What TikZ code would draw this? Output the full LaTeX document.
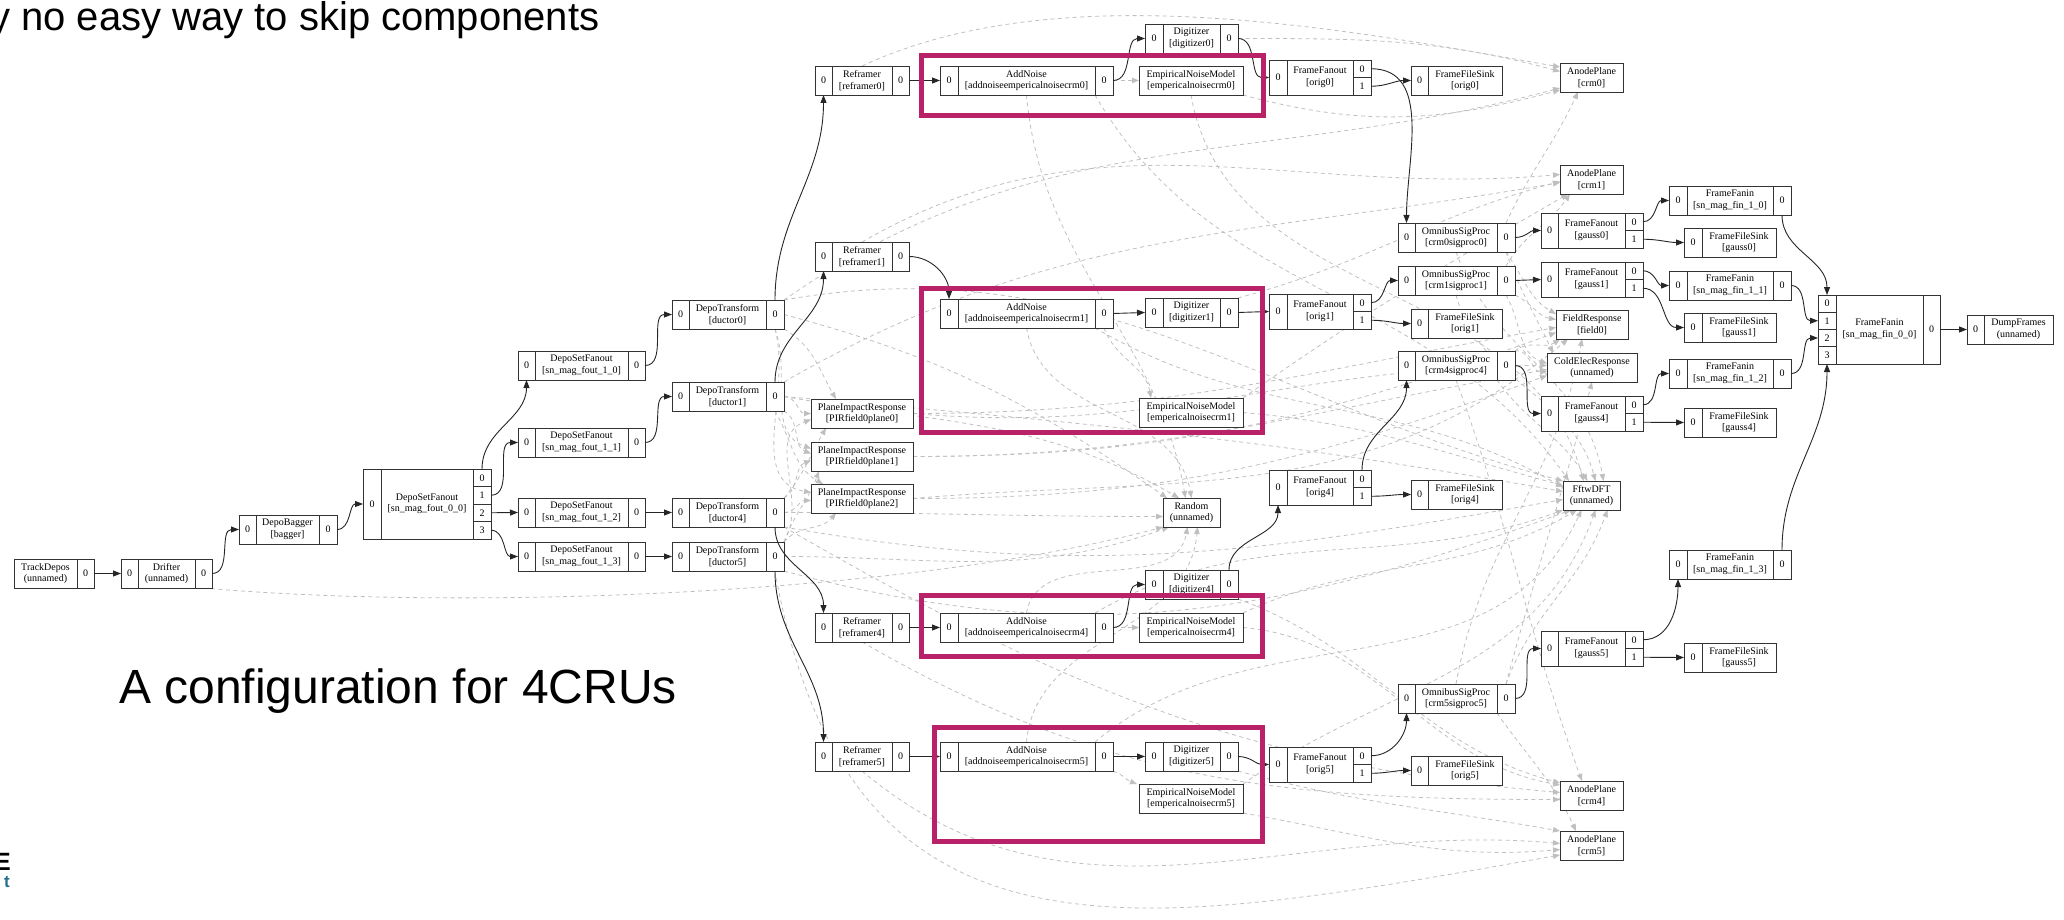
\documentclass[tikz,border=0pt]{standalone}
\usepackage{fontspec}
\setmainfont{Liberation Serif}
\newfontfamily\sansf{Liberation Sans}
\usetikzlibrary{arrows.meta,backgrounds}
\definecolor{hlmag}{RGB}{185,34,104}
\definecolor{logoteal}{RGB}{35,110,140}
\newcommand\rcell[6]{%
  \pgfmathsetmacro\rcx{(#2+#3)/2}%
  \pgfmathsetmacro\rcy{(#4+#5)/2}%
  \pgfmathsetmacro\rcw{#3-#2}%
  \pgfmathsetmacro\rch{#5-#4}%
  \node[rec,minimum width=\rcw pt,minimum height=\rch pt] (#1) at (\rcx,\rcy) {#6};%
}
\newcommand\threerec[8]{%
  \rcell{#1-i}{#2}{#3}{#6}{#7}{0}%
  \rcell{#1}{#3}{#4}{#6}{#7}{#8}%
  \rcell{#1-o}{#4}{#5}{#6}{#7}{0}}
\newcommand\fanrec[8]{%
  \pgfmathsetmacro\rmid{(#6+#7)/2}%
  \rcell{#1-i}{#2}{#3}{#6}{#7}{0}%
  \rcell{#1}{#3}{#4}{#6}{#7}{#8}%
  \rcell{#1-o0}{#4}{#5}{#6}{\rmid}{0}%
  \rcell{#1-o1}{#4}{#5}{\rmid}{#7}{1}}
\newcommand\sinkrec[7]{%
  \rcell{#1-i}{#2}{#3}{#5}{#6}{0}%
  \rcell{#1}{#3}{#4}{#5}{#6}{#7}}
\begin{document}
\begin{tikzpicture}[x=1pt,y=-1pt,
  rec/.style={draw=black!80,fill=white,line width=0.9pt,inner sep=0pt,outer sep=0pt,
    align=center,font=\fontsize{10}{11.5}\selectfont},
  flow/.style={draw=black!85,line width=0.9pt,-{Triangle[length=8pt,width=6pt]}},
  svc/.style={draw=black!25,line width=0.8pt,dash pattern=on 4pt off 3.5pt,
    -{Triangle[length=7pt,width=5.5pt,fill=black!25,color=black!25]}},
  hl/.style={draw=hlmag,line width=5pt}]
\useasboundingbox (0,0) rectangle (2064,920);

% ---------- left chain
\rcell{td}{14}{77}{559}{588}{TrackDepos\\(unnamed)}
\rcell{td-o}{77}{94}{559}{588}{0}
\threerec{dr}{121}{138}{195}{212}{559}{588}{Drifter\\(unnamed)}
\threerec{db}{239}{256}{319}{337}{515}{544}{DepoBagger\\{[bagger]}}
\rcell{dsf0-i}{363}{381}{469}{539}{0}
\rcell{dsf0}{381}{473}{469}{539}{DepoSetFanout\\{[sn\_mag\_fout\_0\_0]}}
\rcell{dsf0-o0}{473}{491}{469}{486.5}{0}
\rcell{dsf0-o1}{473}{491}{486.5}{504}{1}
\rcell{dsf0-o2}{473}{491}{504}{521.5}{2}
\rcell{dsf0-o3}{473}{491}{521.5}{539}{3}
\threerec{dsfa}{518}{535}{628}{645}{351}{380}{DepoSetFanout\\{[sn\_mag\_fout\_1\_0]}}
\threerec{dsfb}{518}{535}{628}{645}{428}{457}{DepoSetFanout\\{[sn\_mag\_fout\_1\_1]}}
\threerec{dsfc}{518}{535}{628}{645}{498}{527}{DepoSetFanout\\{[sn\_mag\_fout\_1\_2]}}
\threerec{dsfd}{518}{535}{628}{645}{542}{571}{DepoSetFanout\\{[sn\_mag\_fout\_1\_3]}}
\threerec{dt0}{672}{689}{766}{784}{300}{329}{DepoTransform\\{[ductor0]}}
\threerec{dt1}{672}{689}{766}{784}{382}{411}{DepoTransform\\{[ductor1]}}
\threerec{dt4}{672}{689}{766}{784}{498}{527}{DepoTransform\\{[ductor4]}}
\threerec{dt5}{672}{689}{766}{784}{542}{571}{DepoTransform\\{[ductor5]}}
\rcell{pir0}{811}{913}{399}{428}{PlaneImpactResponse\\{[PIRfield0plane0]}}
\rcell{pir1}{811}{913}{442}{471}{PlaneImpactResponse\\{[PIRfield0plane1]}}
\rcell{pir2}{811}{913}{484}{513}{PlaneImpactResponse\\{[PIRfield0plane2]}}

% ---------- reframers, noise, digitizers
\threerec{rf0}{815}{832}{892}{909}{66}{95}{Reframer\\{[reframer0]}}
\threerec{rf1}{815}{832}{892}{909}{242}{271}{Reframer\\{[reframer1]}}
\threerec{rf4}{815}{832}{892}{909}{613}{642}{Reframer\\{[reframer4]}}
\threerec{rf5}{815}{832}{892}{909}{742}{771}{Reframer\\{[reframer5]}}
\threerec{an0}{940}{958}{1095}{1113}{66}{95}{AddNoise\\{[addnoiseempericalnoisecrm0]}}
\threerec{an1}{940}{958}{1095}{1113}{299}{328}{AddNoise\\{[addnoiseempericalnoisecrm1]}}
\threerec{an4}{940}{958}{1095}{1113}{613}{642}{AddNoise\\{[addnoiseempericalnoisecrm4]}}
\threerec{an5}{940}{958}{1095}{1113}{742}{771}{AddNoise\\{[addnoiseempericalnoisecrm5]}}
\rcell{enm0}{1139}{1243}{66}{95}{EmpiricalNoiseModel\\{[empericalnoisecrm0]}}
\rcell{enm1}{1139}{1243}{398}{427}{EmpiricalNoiseModel\\{[empericalnoisecrm1]}}
\rcell{enm4}{1139}{1243}{613}{642}{EmpiricalNoiseModel\\{[empericalnoisecrm4]}}
\rcell{enm5}{1139}{1243}{784}{813}{EmpiricalNoiseModel\\{[empericalnoisecrm5]}}
\threerec{dg0}{1145}{1163}{1220}{1238}{24}{53}{Digitizer\\{[digitizer0]}}
\threerec{dg1}{1145}{1163}{1220}{1238}{298}{327}{Digitizer\\{[digitizer1]}}
\threerec{dg4}{1145}{1163}{1220}{1238}{570}{599}{Digitizer\\{[digitizer4]}}
\threerec{dg5}{1145}{1163}{1220}{1238}{742}{771}{Digitizer\\{[digitizer5]}}
\rcell{rnd}{1163}{1220}{498}{527}{Random\\(unnamed)}

% ---------- frame fanouts, sinks, sigproc
\fanrec{fo0}{1269}{1287}{1353}{1371}{60}{95}{FrameFanout\\{[orig0]}}
\fanrec{fo1}{1269}{1287}{1353}{1371}{294}{329}{FrameFanout\\{[orig1]}}
\fanrec{fo4}{1269}{1287}{1353}{1371}{470}{505}{FrameFanout\\{[orig4]}}
\fanrec{fo5}{1269}{1287}{1353}{1371}{747}{782}{FrameFanout\\{[orig5]}}
\sinkrec{fs0}{1411}{1428}{1502}{66}{95}{FrameFileSink\\{[orig0]}}
\sinkrec{fs1}{1411}{1428}{1502}{309}{338}{FrameFileSink\\{[orig1]}}
\sinkrec{fs4}{1411}{1428}{1502}{480}{509}{FrameFileSink\\{[orig4]}}
\sinkrec{fs5}{1411}{1428}{1502}{756}{785}{FrameFileSink\\{[orig5]}}
\threerec{osp0}{1398}{1415}{1497}{1515}{223}{252}{OmnibusSigProc\\{[crm0sigproc0]}}
\threerec{osp1}{1398}{1415}{1497}{1515}{266}{295}{OmnibusSigProc\\{[crm1sigproc1]}}
\threerec{osp4}{1398}{1415}{1497}{1515}{351}{380}{OmnibusSigProc\\{[crm4sigproc4]}}
\threerec{osp5}{1398}{1415}{1497}{1515}{684}{713}{OmnibusSigProc\\{[crm5sigproc5]}}
\rcell{ap0}{1560}{1623}{63}{92}{AnodePlane\\{[crm0]}}
\rcell{ap1}{1560}{1623}{165}{194}{AnodePlane\\{[crm1]}}
\rcell{ap4}{1560}{1623}{781}{810}{AnodePlane\\{[crm4]}}
\rcell{ap5}{1560}{1623}{831}{860}{AnodePlane\\{[crm5]}}
\rcell{fr}{1556}{1628}{310}{339}{FieldResponse\\{[field0]}}
\rcell{cer}{1547}{1637}{353}{382}{ColdElecResponse\\(unnamed)}
\rcell{dft}{1563}{1620}{481}{510}{FftwDFT\\(unnamed)}
\fanrec{fg0}{1541}{1558}{1625}{1643}{213}{248}{FrameFanout\\{[gauss0]}}
\fanrec{fg1}{1541}{1558}{1625}{1643}{262}{297}{FrameFanout\\{[gauss1]}}
\fanrec{fg4}{1541}{1558}{1625}{1643}{396}{431}{FrameFanout\\{[gauss4]}}
\fanrec{fg5}{1541}{1558}{1625}{1643}{631}{666}{FrameFanout\\{[gauss5]}}
\threerec{ffa}{1669}{1687}{1773}{1791}{186}{215}{FrameFanin\\{[sn\_mag\_fin\_1\_0]}}
\threerec{ffb}{1669}{1687}{1773}{1791}{271}{300}{FrameFanin\\{[sn\_mag\_fin\_1\_1]}}
\threerec{ffc}{1669}{1687}{1773}{1791}{359}{388}{FrameFanin\\{[sn\_mag\_fin\_1\_2]}}
\threerec{ffd}{1669}{1687}{1773}{1791}{550}{579}{FrameFanin\\{[sn\_mag\_fin\_1\_3]}}
\sinkrec{fsg0}{1684}{1702}{1776}{228}{257}{FrameFileSink\\{[gauss0]}}
\sinkrec{fsg1}{1684}{1702}{1776}{313}{342}{FrameFileSink\\{[gauss1]}}
\sinkrec{fsg4}{1684}{1702}{1776}{408}{437}{FrameFileSink\\{[gauss4]}}
\sinkrec{fsg5}{1684}{1702}{1776}{643}{672}{FrameFileSink\\{[gauss5]}}
\rcell{ff0-i0}{1818}{1836}{295}{312}{0}
\rcell{ff0-i1}{1818}{1836}{312}{329.5}{1}
\rcell{ff0-i2}{1818}{1836}{329.5}{346.5}{2}
\rcell{ff0-i3}{1818}{1836}{346.5}{364}{3}
\rcell{ff0}{1836}{1923}{295}{364}{FrameFanin\\{[sn\_mag\_fin\_0\_0]}}
\rcell{ff0-o}{1923}{1940}{295}{364}{0}
\sinkrec{dump}{1967}{1984}{2053}{315}{344}{DumpFrames\\(unnamed)}

% ---------- service (dashed) edges
\begin{pgfonlayer}{background}
\draw[svc] (dr-o.south) to[out=-5,in=195,looseness=0.7] (rnd.south west);
% ductors -> PIR
\draw[svc] (dt0-o.south east) to[out=-30,in=120] ([xshift=25pt]pir0.north west);
\draw[svc] (dt0-o.south) to[out=-70,in=160] ([yshift=8pt]pir1.west);
\draw[svc] (dt0-o.south) to[out=-75,in=170] ([yshift=6pt]pir2.west);
\draw[svc] (dt1-o.east) to[out=0,in=180] (pir0.west);
\draw[svc] (dt1-o.south east) to[out=-30,in=160] ([yshift=3pt]pir1.west);
\draw[svc] (dt1-o.south) to[out=-60,in=150] ([xshift=12pt]pir2.north west);
\draw[svc] (dt4-o.north east) to[out=50,in=-120] ([xshift=15pt]pir0.south west);
\draw[svc] (dt4-o.north east) to[out=30,in=200] ([yshift=-4pt]pir1.west);
\draw[svc] (dt4-o.east) to[out=0,in=180] ([yshift=-2pt]pir2.west);
\draw[svc] (dt5-o.north east) to[out=70,in=-110] ([xshift=8pt]pir1.south west);
\draw[svc] (dt5-o.north east) to[out=50,in=-130] ([xshift=25pt]pir2.south west);
\draw[svc] (dt5-o.north east) to[out=60,in=200] ([yshift=-6pt]pir0.west);
% ductors -> Random / DFT / AnodePlane
\draw[svc] (dt0-o.east) to[out=-15,in=145] ([xshift=4pt]rnd.north west);
\draw[svc] (dt1-o.east) to[out=-10,in=150] ([xshift=16pt]rnd.north west);
\draw[svc] (dt4-o.east) to[out=0,in=180] ([yshift=-4pt]rnd.west);
\draw[svc] (dt5-o.east) to[out=0,in=200] ([xshift=6pt]rnd.south west);
\draw[svc] (dt0-o.north east) to[out=10,in=165] (dft.north west);
\draw[svc] (dt1-o.east) to[out=-5,in=170] ([yshift=4pt]dft.west);
\draw[svc] (dt4-o.south east) to[out=-10,in=190] ([yshift=-4pt]dft.west);
\draw[svc] (dt5-o.south east) to[out=-15,in=200] ([xshift=8pt]dft.south west);
\draw[svc] (dt0-o.north east) to[out=35,in=195] ([yshift=4pt]ap0.south west);
\draw[svc] (dt1-o.north east) to[out=30,in=190] ([yshift=-3pt]ap1.west);
\draw[svc] (dt4-o.south east) to[out=-30,in=175] ([yshift=3pt]ap4.west);
\draw[svc] (dt5-o.south) to[out=-80,in=190,looseness=1.3] ([yshift=5pt]ap5.south west);
% reframers -> AnodePlane
\draw[svc] (rf0.north) to[out=25,in=170,looseness=0.8] ([yshift=-4pt]ap0.north west);
\draw[svc] (rf1.north) to[out=30,in=185] ([yshift=5pt]ap1.west);
\draw[svc] (rf4.south) to[out=-30,in=180] ([yshift=-4pt]ap4.west);
\draw[svc] (rf5.south) to[out=-40,in=175] ([yshift=2pt]ap5.west);
% AddNoise
\draw[svc] (an0-o.east) -- (enm0.west);
\draw[svc] (an0.south) to[out=-85,in=100] ([xshift=-6pt]rnd.north);
\draw[svc] (an0.south east) to[out=-60,in=125] ([xshift=6pt]dft.north west);
\draw[svc] (an1-o.south) to[out=-70,in=100] ([xshift=-40pt]enm1.north);
\draw[svc] (an1.south) to[out=-80,in=100] (rnd.north);
\draw[svc] (an1.south east) to[out=-30,in=150] ([yshift=8pt]dft.west);
\draw[svc] (an4-o.east) -- (enm4.west);
\draw[svc] (an4.north) to[out=80,in=-100] ([xshift=-4pt]rnd.south);
\draw[svc] (an4.north east) to[out=30,in=-160] (dft.south west);
\draw[svc] (an5-o.south east) to[out=-20,in=160] ([xshift=-2pt]enm5.north west);
\draw[svc] (an5.north) to[out=85,in=-95] ([xshift=6pt]rnd.south);
\draw[svc] (an5.north east) to[out=40,in=-115] ([xshift=-10pt]dft.south);
% noise models
\draw[svc] (enm0.south east) to[out=-15,in=195] ([yshift=2pt]ap0.south west);
\draw[svc] (enm0.south) to[out=-80,in=105] ([xshift=-8pt]dft.north);
\draw[svc] (enm1.north east) to[out=35,in=-150] ([xshift=8pt]ap1.south west);
\draw[svc] (enm1.east) to[out=-5,in=165] ([yshift=10pt]dft.west);
\draw[svc] (enm4.east) to[out=-5,in=170] ([yshift=-4pt]ap4.north west);
\draw[svc] (enm4.north east) to[out=25,in=-150] ([xshift=14pt]dft.south west);
\draw[svc] (enm5.south east) to[out=-10,in=185] ([yshift=-4pt]ap5.west);
\draw[svc] (enm5.north east) to[out=35,in=-110] ([xshift=4pt]dft.south);
% digitizers
\draw[svc] (dg0-o.east) to[out=0,in=165] ([yshift=6pt]ap0.west);
\draw[svc] (dg1-o.north east) to[out=15,in=195] ([yshift=-2pt]ap1.west);
\draw[svc] (dg4-o.south east) to[out=-20,in=165] ([yshift=-2pt]ap4.north west);
\draw[svc] (dg5-o.south east) to[out=-15,in=170] (ap5.north west);
% sigproc
\draw[svc] (osp0-o.north) to[out=65,in=-115] ([xshift=18pt]ap0.south west);
\draw[svc] (osp0-o.south) to[out=-55,in=150] ([yshift=-4pt]fr.north west);
\draw[svc] (osp0-o.south) to[out=-70,in=115] ([xshift=6pt]cer.north west);
\draw[svc] (osp0.south) to[out=-70,in=100] ([xshift=12pt]dft.north);
\draw[svc] (osp1-o.north) to[out=60,in=-125] ([xshift=10pt]ap1.south west);
\draw[svc] (osp1-o.south east) to[out=-25,in=170] ([yshift=5pt]fr.west);
\draw[svc] (osp1-o.south) to[out=-60,in=160] ([yshift=4pt]cer.west);
\draw[svc] (osp1.south) to[out=-75,in=105] ([xshift=4pt]dft.north);
\draw[svc] (osp4.south) to[out=-70,in=110] ([xshift=22pt]ap4.north west);
\draw[svc] (osp4-o.north east) to[out=40,in=-145] ([xshift=4pt]fr.south west);
\draw[svc] (osp4-o.north east) to[out=10,in=185] ([yshift=-4pt]cer.west);
\draw[svc] (osp4.south east) to[out=-55,in=120] ([xshift=-4pt]dft.north);
\draw[svc] (osp5.south east) to[out=-55,in=115] ([xshift=16pt]ap5.north west);
\draw[svc] (osp5.north) to[out=80,in=-100] ([xshift=-10pt]fr.south);
\draw[svc] (osp5-o.north) to[out=75,in=-105] (cer.south);
\draw[svc] (osp5-o.north) to[out=70,in=-110] ([xshift=16pt]dft.south);
% plane responses
\draw[svc] (pir0.east) to[out=0,in=190] ([yshift=-3pt]fr.west);
\draw[svc] (pir1.east) to[out=0,in=200] ([yshift=-8pt]fr.west);
\draw[svc] (pir2.east) to[out=5,in=-140] ([xshift=12pt]fr.south west);
\draw[svc] (pir0.east) to[out=-5,in=180] ([yshift=2pt]cer.west);
\draw[svc] (pir1.east) to[out=0,in=190] ([yshift=-2pt]cer.west);
\draw[svc] (pir2.east) to[out=0,in=200] ([yshift=-8pt]cer.west);
\end{pgfonlayer}

% ---------- data flow edges
\draw[flow] (td-o.east) -- (dr-i.west);
\draw[flow] (dr-o.east) to[out=0,in=180] (db-i.west);
\draw[flow] (db-o.east) to[out=0,in=180] (dsf0-i.west);
\draw[flow] (dsf0-o0.north) to[out=90,in=-90] (dsfa-i.south);
\draw[flow] (dsf0-o1.east) to[out=0,in=180] (dsfb-i.west);
\draw[flow] (dsf0-o2.east) -- (dsfc-i.west);
\draw[flow] (dsf0-o3.east) to[out=0,in=180] (dsfd-i.west);
\draw[flow] (dsfa-o.east) to[out=0,in=180] (dt0-i.west);
\draw[flow] (dsfb-o.east) to[out=0,in=180] (dt1-i.west);
\draw[flow] (dsfc-o.east) -- (dt4-i.west);
\draw[flow] (dsfd-o.east) -- (dt5-i.west);
\draw[flow] (dt0-o.north) to[out=90,in=-90] (rf0-i.south);
\draw[flow] (dt1-o.north) to[out=90,in=-90] (rf1-i.south);
\draw[flow] (dt4-o.south) to[out=-90,in=90] (rf4-i.north);
\draw[flow] (dt5-o.south) to[out=-90,in=90] (rf5-i.north);
\draw[flow] (rf0-o.east) -- (an0-i.west);
\draw[flow] (rf1-o.east) to[out=0,in=90] (an1-i.north);
\draw[flow] (rf4-o.east) -- (an4-i.west);
\draw[flow] (rf5-o.east) -- (an5-i.west);
\draw[flow] (an0-o.east) to[out=0,in=180] (dg0-i.west);
\draw[flow] (an1-o.east) -- (dg1-i.west);
\draw[flow] (an4-o.east) to[out=0,in=180] (dg4-i.west);
\draw[flow] (an5-o.east) -- (dg5-i.west);
\draw[flow] (dg0-o.east) to[out=0,in=180] (fo0-i.west);
\draw[flow] (dg1-o.east) -- (fo1-i.west);
\draw[flow] (dg4-o.north) to[out=90,in=-90] (fo4-i.south);
\draw[flow] (dg5-o.east) to[out=0,in=180] (fo5-i.west);
\draw[flow] (fo0-o0.east) to[out=0,in=90] (osp0-i.north);
\draw[flow] (fo0-o1.east) to[out=0,in=180] (fs0-i.west);
\draw[flow] (fo1-o0.east) to[out=0,in=180] (osp1-i.west);
\draw[flow] (fo1-o1.east) to[out=0,in=180] (fs1-i.west);
\draw[flow] (fo4-o0.north) to[out=90,in=-90] (osp4-i.south);
\draw[flow] (fo4-o1.east) to[out=0,in=180] (fs4-i.west);
\draw[flow] (fo5-o0.east) to[out=0,in=-90] (osp5-i.south);
\draw[flow] (fo5-o1.east) to[out=0,in=180] (fs5-i.west);
\draw[flow] (osp0-o.east) to[out=0,in=180] (fg0-i.west);
\draw[flow] (osp1-o.east) -- (fg1-i.west);
\draw[flow] (osp4-o.east) to[out=0,in=180] (fg4-i.west);
\draw[flow] (osp5-o.east) to[out=0,in=180] (fg5-i.west);
\draw[flow] (fg0-o0.east) to[out=0,in=180] (ffa-i.west);
\draw[flow] (fg0-o1.east) to[out=0,in=180] (fsg0-i.west);
\draw[flow] (fg1-o0.east) to[out=0,in=180] (ffb-i.west);
\draw[flow] (fg1-o1.east) to[out=0,in=180] (fsg1-i.west);
\draw[flow] (fg4-o0.east) to[out=0,in=180] (ffc-i.west);
\draw[flow] (fg4-o1.east) -- (fsg4-i.west);
\draw[flow] (fg5-o0.east) to[out=0,in=-90] (ffd-i.south);
\draw[flow] (fg5-o1.east) -- (fsg5-i.west);
\draw[flow] (ffa-o.south) to[out=-90,in=90] (ff0-i0.north);
\draw[flow] (ffb-o.east) to[out=0,in=180] (ff0-i1.west);
\draw[flow] (ffc-o.east) to[out=0,in=180] (ff0-i2.west);
\draw[flow] (ffd-o.north) to[out=90,in=-90] (ff0-i3.south);
\draw[flow] (ff0-o.east) -- (dump-i.west);

% ---------- highlight frames
\draw[hl] (921.5,55.5) rectangle (1263.5,115.5);
\draw[hl] (921.5,288.5) rectangle (1262.5,432.5);
\draw[hl] (921.5,595.5) rectangle (1262.5,656.5);
\draw[hl] (934.5,727.5) rectangle (1262.5,841.5);

% ---------- slide texts
\node[anchor=base west,inner sep=0pt,font=\sansf\fontsize{40}{40}\selectfont] (hdr) at (-10,31) {y no easy way to skip components};
\node[anchor=base west,inner sep=0pt,font=\sansf\fontsize{48}{48}\selectfont] (cap) at (119,703) {A configuration for 4CRUs};
\node[anchor=base east,inner sep=0pt,font=\sansf\bfseries\fontsize{25}{25}\selectfont] (logoE) at (11,870) {E};
\node[anchor=base east,inner sep=0pt,text=logoteal,font=\sansf\bfseries\fontsize{17}{17}\selectfont] (logoT) at (10,887) {t};
\end{tikzpicture}
\end{document}
